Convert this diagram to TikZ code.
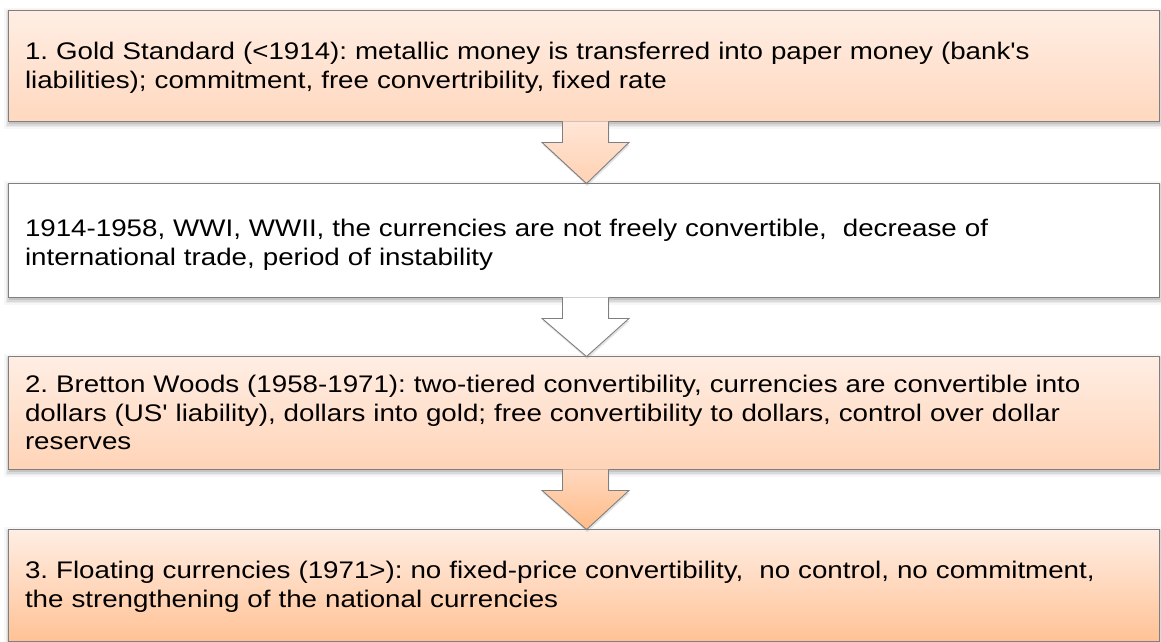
\documentclass[tikz,border=0pt]{standalone}
\usepackage{fontspec}
\setmainfont{Liberation Sans}[FakeStretch=1.155, Ligatures=TeXOff]
\usetikzlibrary{calc,shadows}
\pgfdeclarelayer{bg}
\pgfsetlayers{bg,main}

\definecolor{edgegray}{HTML}{7F7F7F}
\definecolor{peachtop}{HTML}{FFEEE4}
\definecolor{peachmid}{HTML}{FFD8BF}
\definecolor{peachlow}{HTML}{FFC296}

\tikzset{
  stage/.style={draw=edgegray, line width=0.9pt, minimum width=1151pt,
    text width=1117pt, inner xsep=17pt, align=left, anchor=center,
    font=\fontsize{24}{28.6}\selectfont\frenchspacing},
  peach/.style={stage, top color=peachtop, bottom color=#1},
  plain/.style={stage, fill=white},
  blockarrow/.style={draw=edgegray, line width=0.9pt, line join=miter,
    drop shadow={opacity=0.22, shadow xshift=0.8pt, shadow yshift=-2.5pt}},
}

% soft shadow behind a stage box
\newcommand{\stageshade}[1]{%
  \begin{pgfonlayer}{bg}
    \foreach \d/\o in {0/0.10,1.5/0.07,3/0.05,4.5/0.03}{
      \fill[black,opacity=\o] ($(#1.north west)+(1-\d,3-\d)$) rectangle ($(#1.south east)+(1+\d,3+\d)$);
    }
  \end{pgfonlayer}}

% block arrow from the bottom of one box to the top of the next
\newcommand{\stagearrow}[3]{%
  \draw[blockarrow,#3]
    ($(#1.south)+(-21,0)$) |- ($(#1.south)+(-41.5,21)$)
    -- ($(#2.north)+(3,1)$)
    -- ($(#1.south)+(45.5,21)$) -| ($(#1.south)+(25,0)$);}

\begin{document}
\begin{tikzpicture}[x=1pt,y=-1pt]
\useasboundingbox (0,0) rectangle (1161,642);

\node[peach=peachmid, minimum height=111pt] (b1) at (583.5,65.5)
  {\rule{0pt}{22.5pt}1. Gold Standard (<1914): metallic money is transferred into paper money (bank's\\
   liabilities); commitment, free convertribility, fixed rate};
\node[plain, minimum height=114pt] (b2) at (583.5,240)
  {\rule{0pt}{27.5pt}1914-1958, WWI, WWII, the currencies are not freely convertible,\ \ decrease of\\
   international trade, period of instability};
\node[peach=peachmid!80!peachlow, minimum height=113pt] (b3) at (583.5,412.5)
  {2. Bretton Woods (1958-1971): two-tiered convertibility, currencies are convertible into\\
   dollars (US' liability), dollars into gold; free convertibility to dollars, control over dollar\\
   reserves};
\node[peach=peachlow, minimum height=112pt] (b4) at (583.5,585)
  {\rule{0pt}{21.5pt}3. Floating currencies (1971>): no fixed-price convertibility,\ \ no control, no commitment,\\
   the strengthening of the national currencies};

\stageshade{b1}
\stageshade{b2}
\stageshade{b3}
\stageshade{b4}

\stagearrow{b1}{b2}{top color=peachtop!60!peachmid, bottom color=peachmid!70!peachlow}
\stagearrow{b2}{b3}{fill=white}
\stagearrow{b3}{b4}{top color=peachmid, bottom color=peachlow!90!orange}
\end{tikzpicture}
\end{document}
